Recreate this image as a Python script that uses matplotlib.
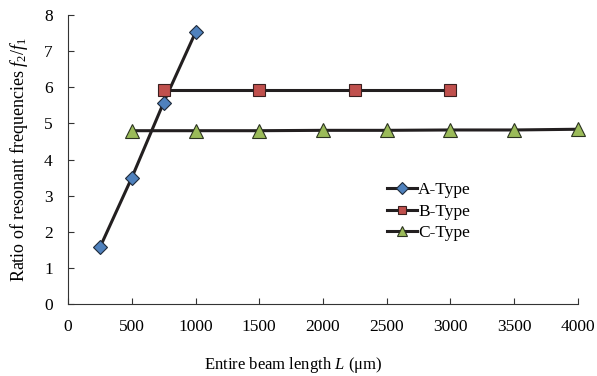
import matplotlib.pyplot as plt

plt.rcParams["font.family"] = ["Liberation Serif", "DejaVu Serif"]
plt.rcParams["mathtext.fontset"] = "custom"
plt.rcParams["mathtext.it"] = "Liberation Serif:italic"
plt.rcParams["mathtext.rm"] = "Liberation Serif"

a_length = [250, 500, 750, 1000]
a_ratio = [1.57, 3.50, 5.58, 7.52]

b_length = [750, 1500, 2250, 3000]
b_ratio = [5.92, 5.92, 5.92, 5.92]

c_length = [500, 1000, 1500, 2000, 2500, 3000, 3500, 4000]
c_ratio = [4.80, 4.80, 4.80, 4.81, 4.81, 4.82, 4.82, 4.84]

fig = plt.figure(figsize=(5.97, 3.76), dpi=100)
ax = fig.add_axes([0.114, 0.191, 0.854, 0.769])

line_color = "#231f20"
ax.plot(a_length, a_ratio, color=line_color, lw=2.2, marker="D", ms=7.5,
        mfc="#4f81bd", mec="#1f2a3a", mew=0.8, label="A-Type", zorder=3, clip_on=False)
ax.plot(b_length, b_ratio, color=line_color, lw=2.2, marker="s", ms=8,
        mfc="#c0504d", mec="#3a1f1f", mew=0.8, label="B-Type", zorder=3, clip_on=False)
ax.plot(c_length, c_ratio, color=line_color, lw=2.2, marker="^", ms=10,
        mfc="#9bbb59", mec="#2b3320", mew=0.8, label="C-Type", zorder=3, clip_on=False)

ax.set_xlim(0, 4000)
ax.set_ylim(0, 8)
ax.set_xticks(range(0, 4001, 500))
ax.set_yticks(range(0, 9))
ax.spines["top"].set_visible(False)
ax.spines["right"].set_visible(False)
for side in ["left", "bottom"]:
    ax.spines[side].set_color("#333333")
ax.tick_params(direction="in", length=4, labelsize=12.5, pad=11, color="#333333")

ax.set_xlabel(r"Entire beam length $L$ ($\mathrm{\mu}$m)", fontsize=12)
ax.xaxis.set_label_coords(0.441, -0.175)
ax.set_ylabel(r"Ratio of resonant frequencies $f_2$/$f_1$", fontsize=13, labelpad=10)

ax.legend(loc="center left", bbox_to_anchor=(0.595, 0.32), frameon=False,
          fontsize=12.5, handlelength=1.75, handletextpad=0.05, labelspacing=0.3,
          markerscale=0.75)

fig.savefig("out.png", dpi=100)
